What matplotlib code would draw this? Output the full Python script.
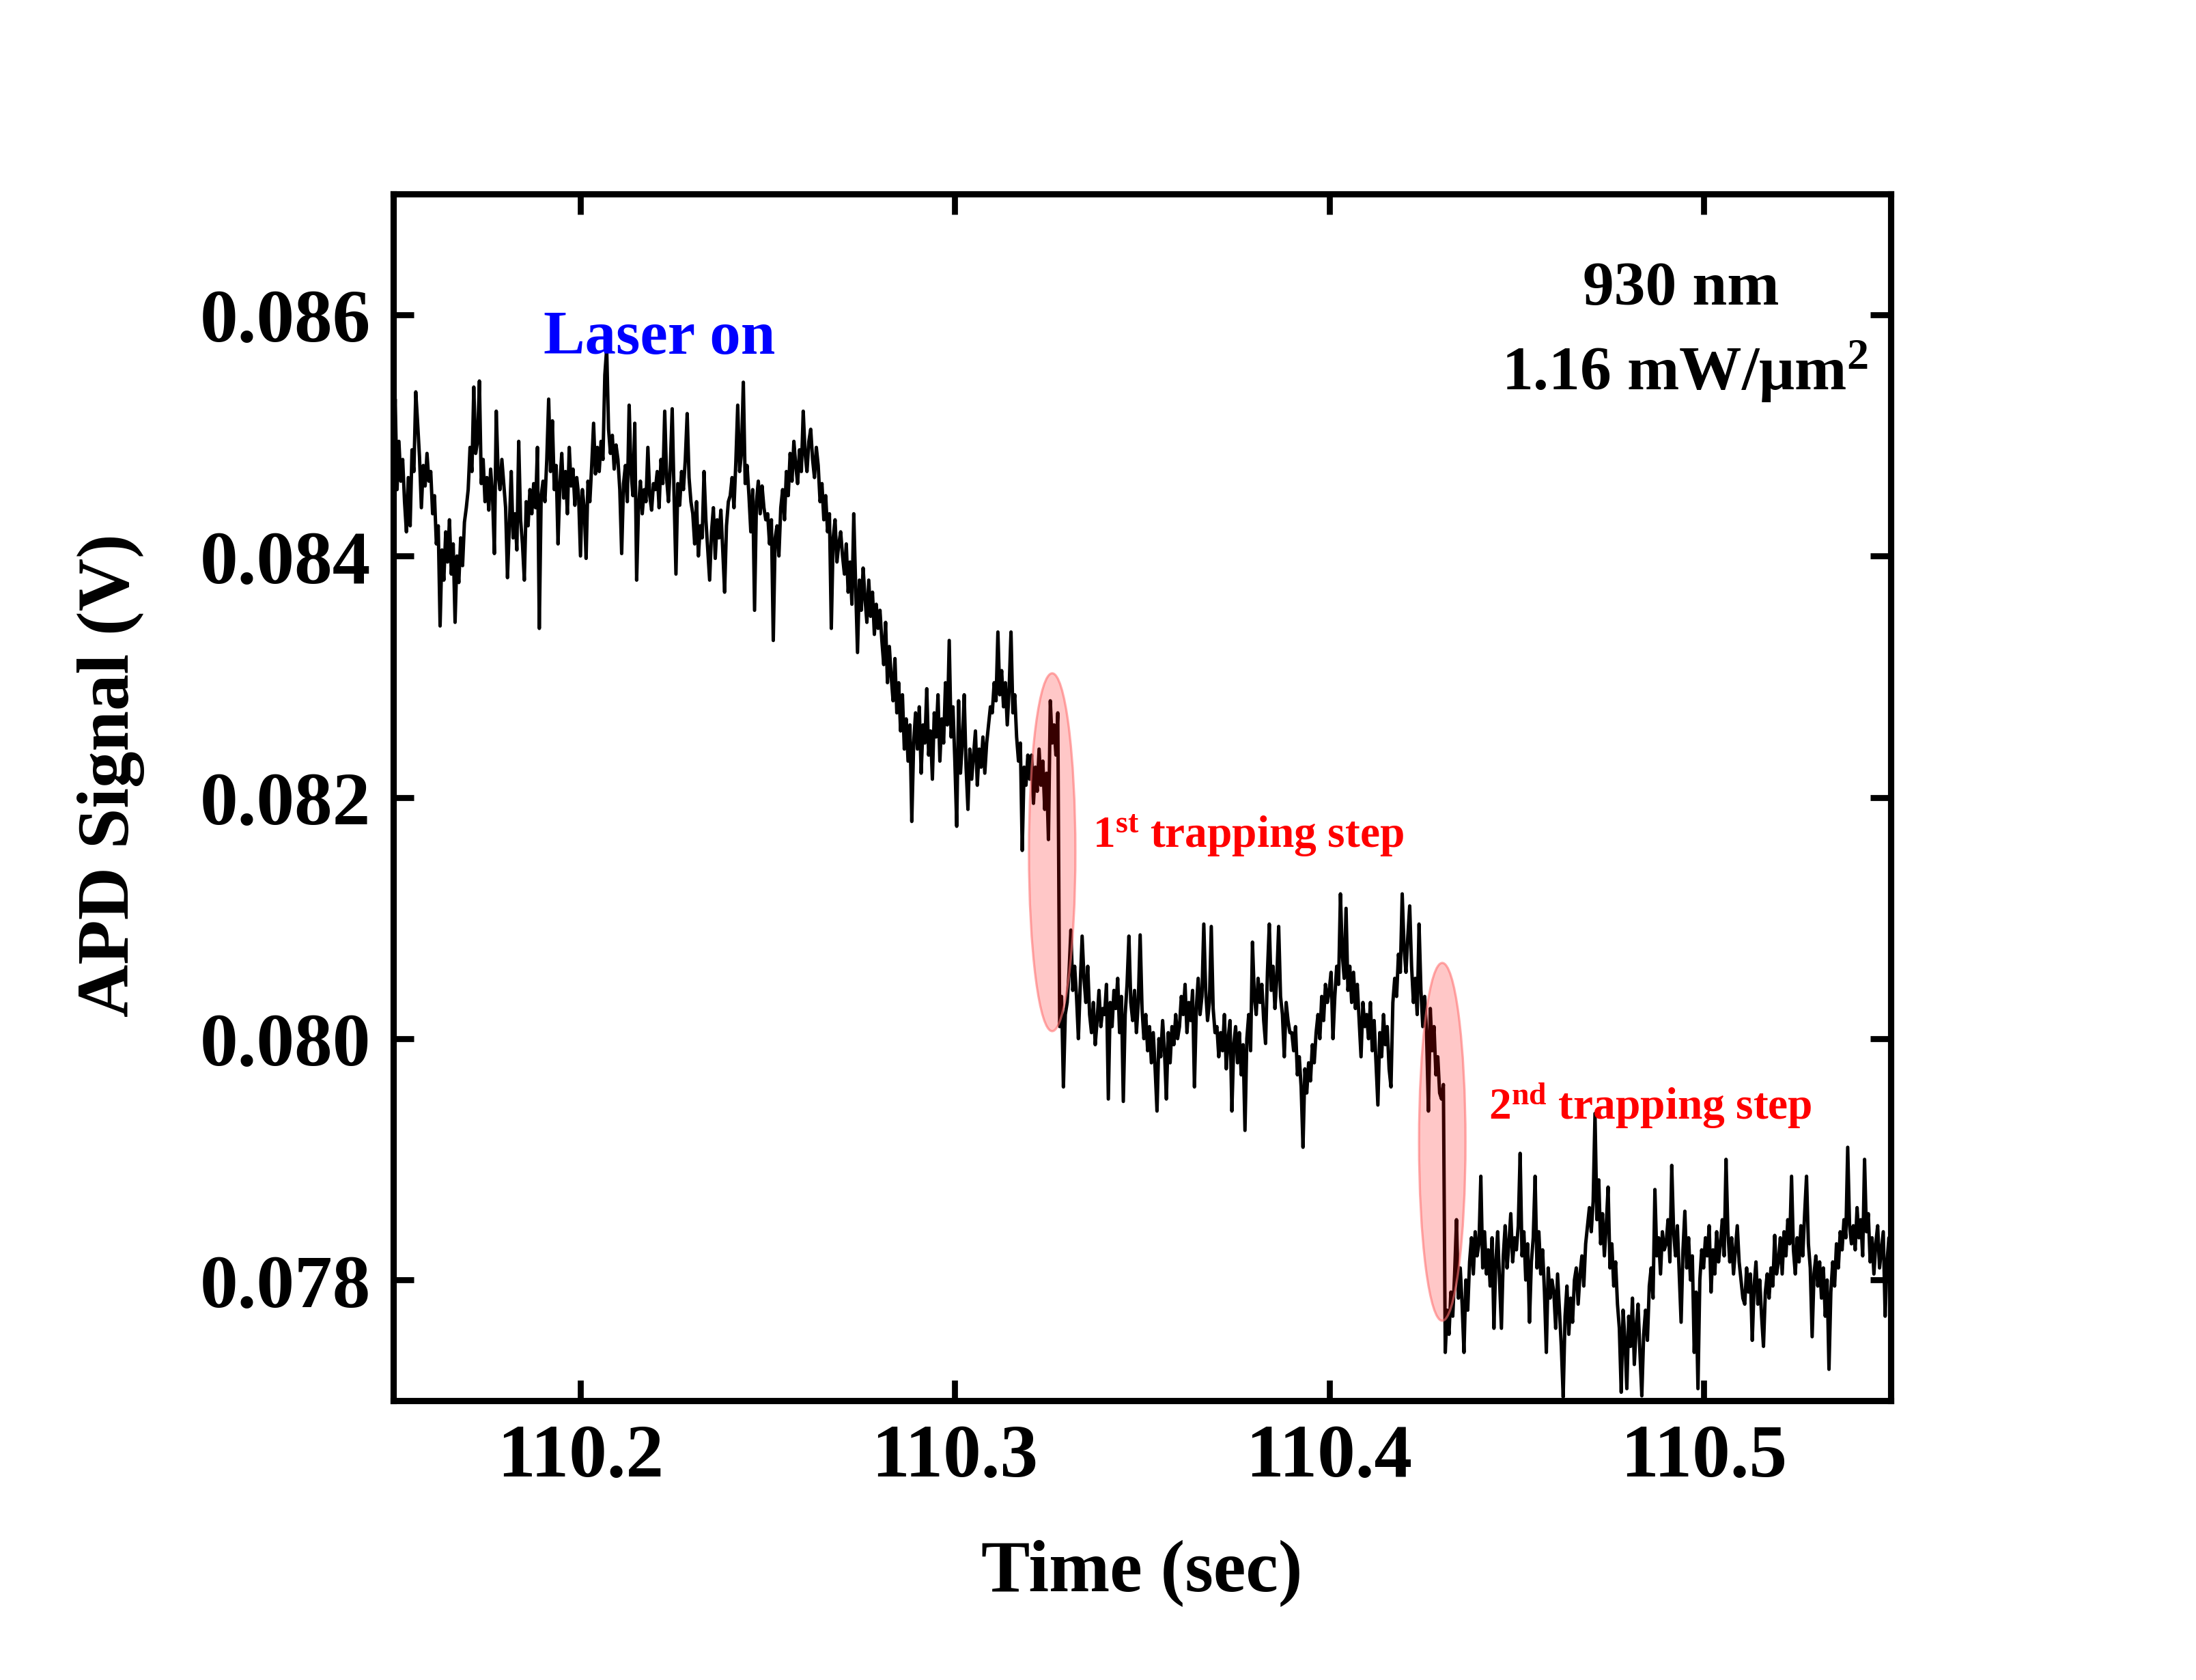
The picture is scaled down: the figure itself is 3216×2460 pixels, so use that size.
import numpy as np
import matplotlib
matplotlib.use("Agg")
import matplotlib.pyplot as plt
from matplotlib.patches import Ellipse

plt.rcParams['font.family'] = ['Liberation Serif', 'DejaVu Serif']
plt.rcParams['font.weight'] = 'bold'
plt.rcParams['mathtext.fontset'] = 'custom'
plt.rcParams['mathtext.rm'] = 'Liberation Serif:bold'
plt.rcParams['mathtext.bf'] = 'Liberation Serif:bold'
plt.rcParams['mathtext.it'] = 'Liberation Serif:bold'

# ---------------- data ----------------
t_start = 110.15          # s, first sample
t_step = 0.0005           # s, sampling interval
# APD signal in mV, one row per 0.01 s (20 samples)
signal_mV_rows = [
    [84.72, 85.30, 84.55, 84.95, 84.62, 84.80, 84.45, 84.20, 84.65, 84.25, 84.88, 84.70, 85.36, 85.10, 84.82, 84.40, 84.75, 84.58, 84.85, 84.62],
    [84.70, 84.35, 84.50, 84.10, 84.25, 83.42, 84.05, 83.80, 84.20, 83.95, 84.30, 83.85, 84.10, 83.45, 84.00, 83.78, 84.15, 83.92, 84.28, 84.40],
    [84.55, 84.90, 84.70, 85.40, 84.85, 84.95, 85.45, 84.60, 84.80, 84.45, 84.65, 84.38, 84.72, 84.50, 84.02, 85.20, 84.68, 84.55, 84.80, 84.60],
    [84.40, 83.82, 84.25, 84.70, 84.15, 84.35, 84.05, 84.95, 84.30, 84.10, 83.80, 84.45, 84.25, 84.55, 84.35, 84.60, 84.40, 84.90, 83.40, 84.50],
    [84.62, 84.45, 84.80, 85.30, 84.70, 85.12, 84.55, 84.75, 84.10, 84.60, 84.85, 84.48, 84.70, 84.35, 84.90, 84.58, 84.72, 84.42, 84.65, 84.50],
    [84.00, 84.55, 84.40, 83.98, 84.62, 84.45, 84.75, 85.10, 84.68, 84.90, 84.70, 84.95, 84.80, 85.50, 85.72, 85.05, 84.85, 85.00, 84.72, 84.92],
    [84.80, 84.55, 84.02, 84.60, 84.75, 84.45, 85.25, 84.70, 84.50, 85.10, 83.80, 84.40, 84.62, 84.35, 84.55, 84.45, 84.90, 84.50, 84.38, 84.60],
    [84.55, 84.70, 84.40, 84.80, 84.60, 85.20, 84.65, 84.45, 84.75, 85.22, 84.50, 83.85, 84.60, 84.42, 84.70, 84.55, 84.80, 85.18, 84.65, 84.45],
    [84.35, 84.10, 84.45, 84.00, 84.25, 84.15, 84.70, 84.30, 84.05, 83.80, 84.20, 84.40, 83.98, 84.30, 84.15, 84.38, 84.05, 83.70, 84.25, 84.45],
    [84.50, 84.65, 84.40, 84.78, 85.25, 84.70, 84.85, 85.44, 84.60, 84.75, 84.50, 84.20, 84.55, 83.55, 84.45, 84.62, 84.35, 84.58, 84.40, 84.30],
    [84.35, 84.10, 84.30, 83.30, 84.15, 84.25, 84.00, 84.40, 84.55, 84.30, 84.70, 84.50, 84.85, 84.62, 84.95, 84.75, 84.60, 84.88, 84.70, 85.20],
    [84.85, 84.70, 84.95, 85.05, 84.80, 84.65, 84.90, 84.75, 84.45, 84.60, 84.30, 84.50, 84.20, 84.35, 83.40, 84.15, 84.30, 83.95, 84.10, 84.20],
    [84.00, 83.85, 84.10, 83.70, 83.95, 83.60, 84.35, 83.75, 83.20, 83.80, 83.55, 83.90, 83.65, 83.45, 83.80, 83.50, 83.70, 83.35, 83.60, 83.40],
    [83.55, 83.30, 83.10, 83.45, 82.95, 83.25, 83.00, 82.80, 83.15, 82.70, 82.95, 82.55, 82.85, 82.40, 82.65, 82.30, 82.60, 81.80, 82.45, 82.70],
    [82.40, 82.75, 82.20, 82.60, 82.45, 82.90, 82.35, 82.55, 82.15, 82.70, 82.50, 82.85, 82.30, 82.65, 82.45, 82.95, 82.60, 83.30, 82.50, 82.75],
    [82.30, 81.76, 82.80, 82.20, 82.45, 82.85, 82.25, 81.90, 82.40, 82.15, 82.35, 82.55, 82.10, 82.40, 82.25, 82.50, 82.20, 82.45, 82.60, 82.75],
    [82.70, 82.95, 82.80, 83.37, 82.85, 83.05, 82.75, 82.95, 82.60, 82.90, 83.37, 82.70, 82.85, 82.50, 82.30, 82.45, 81.56, 82.25, 82.10, 82.35],
    [82.15, 82.35, 81.95, 82.25, 82.05, 82.40, 82.10, 82.30, 81.90, 82.20, 81.65, 82.80, 82.45, 82.60, 82.35, 82.70, 80.10, 80.35, 79.60, 80.20],
    [80.30, 80.55, 80.90, 80.40, 80.60, 80.35, 80.00, 80.45, 80.85, 80.50, 80.30, 80.60, 80.20, 80.05, 80.30, 79.95, 80.15, 80.40, 80.10, 80.25],
    [80.20, 80.45, 79.50, 80.30, 80.10, 80.40, 80.25, 80.50, 80.05, 80.35, 79.48, 80.20, 80.45, 80.85, 80.30, 80.15, 80.40, 80.05, 80.30, 80.86],
    [80.25, 80.00, 80.20, 79.90, 80.10, 79.80, 80.05, 79.75, 79.40, 80.00, 79.85, 80.15, 79.90, 79.50, 80.05, 79.80, 80.10, 79.95, 80.20, 80.00],
    [80.10, 80.35, 80.20, 80.45, 80.05, 80.30, 80.15, 80.40, 79.60, 80.25, 80.50, 80.20, 80.35, 80.95, 80.40, 80.15, 80.30, 80.93, 80.25, 80.05],
    [80.10, 79.85, 80.05, 79.90, 80.20, 79.75, 80.00, 80.15, 79.40, 79.95, 80.10, 79.80, 80.05, 79.70, 79.95, 79.24, 80.00, 80.20, 79.90, 80.80],
    [80.35, 80.20, 80.50, 80.30, 80.45, 80.15, 79.96, 80.55, 80.95, 80.40, 80.60, 80.25, 80.50, 80.93, 80.35, 80.20, 79.85, 80.30, 80.15, 80.05],
    [80.05, 79.90, 80.10, 79.70, 79.85, 79.60, 79.10, 79.75, 79.55, 79.80, 79.65, 79.95, 79.80, 80.05, 80.20, 80.00, 80.35, 80.15, 80.45, 80.30],
    [80.40, 80.55, 80.00, 80.35, 80.60, 80.45, 81.20, 80.70, 80.50, 81.08, 80.40, 80.60, 80.30, 80.55, 80.25, 80.45, 80.15, 79.85, 80.30, 80.10],
    [80.20, 80.00, 80.30, 79.90, 80.15, 79.80, 79.45, 80.05, 79.85, 80.20, 79.95, 80.10, 79.75, 79.60, 80.30, 80.50, 80.35, 80.70, 80.55, 81.20],
    [80.75, 80.55, 80.85, 81.10, 80.60, 80.30, 80.50, 80.20, 80.95, 80.40, 80.10, 80.35, 80.05, 79.40, 80.25, 79.90, 80.10, 79.70, 79.85, 79.55],
    [79.50, 79.62, 77.40, 77.75, 77.55, 77.90, 77.70, 78.05, 78.50, 77.85, 78.10, 77.80, 77.40, 78.00, 77.75, 78.15, 78.35, 78.05, 78.40, 78.20],
    [78.30, 78.86, 78.10, 78.40, 78.05, 78.25, 77.95, 78.35, 77.60, 78.15, 78.40, 78.00, 77.60, 78.20, 78.45, 78.10, 78.30, 78.55, 78.15, 78.35],
    [78.25, 78.45, 79.05, 78.20, 78.40, 78.00, 78.30, 77.65, 78.15, 78.35, 78.86, 78.10, 78.40, 78.05, 78.25, 77.90, 77.40, 78.10, 77.85, 78.00],
    [77.90, 77.60, 78.05, 77.75, 77.45, 77.03, 77.70, 77.95, 77.55, 77.85, 77.65, 78.00, 78.10, 77.80, 78.05, 78.20, 77.95, 78.30, 78.45, 78.60],
    [78.40, 78.65, 79.38, 78.50, 78.83, 78.30, 78.55, 78.20, 78.45, 78.77, 78.10, 78.30, 77.95, 78.15, 77.80, 77.60, 77.07, 77.75, 77.50, 77.10],
    [77.70, 77.45, 77.85, 77.30, 77.60, 77.80, 77.40, 77.04, 77.55, 77.75, 77.50, 77.95, 78.10, 77.85, 78.75, 78.20, 78.35, 78.05, 78.40, 78.25],
    [78.30, 78.50, 78.15, 78.95, 78.40, 78.20, 78.45, 78.05, 77.65, 78.25, 78.57, 78.10, 78.35, 78.00, 78.20, 77.40, 77.90, 77.10, 78.00, 78.25],
    [78.10, 78.35, 78.20, 78.45, 77.90, 78.25, 78.05, 78.40, 78.15, 78.30, 78.50, 78.20, 79.00, 78.40, 78.15, 78.35, 78.05, 78.25, 78.45, 78.15],
    [78.00, 77.85, 77.80, 78.10, 77.90, 78.05, 77.50, 77.95, 78.15, 77.80, 78.00, 77.70, 77.45, 77.90, 78.05, 77.85, 78.10, 77.95, 78.37, 78.05],
    [78.15, 78.35, 78.05, 78.40, 78.20, 78.50, 78.30, 78.86, 78.25, 78.05, 78.35, 78.15, 78.45, 78.20, 78.55, 78.86, 78.30, 78.10, 77.53, 78.05],
    [78.20, 77.95, 78.15, 77.85, 78.10, 77.70, 78.00, 77.26, 77.90, 78.15, 77.95, 78.30, 78.10, 78.40, 78.25, 78.50, 78.35, 79.10, 78.45, 78.30],
    [78.45, 78.25, 78.60, 78.35, 78.50, 78.20, 79.00, 78.40, 78.55, 78.15, 78.35, 78.05, 78.30, 78.45, 78.10, 78.25, 78.40, 77.70, 78.15, 78.35],
    [78.30],
]

x_limits = (110.15, 110.55)
y_limits = (0.077, 0.087)
x_ticks = [110.2, 110.3, 110.4, 110.5]
x_tick_labels = ["110.2", "110.3", "110.4", "110.5"]
y_ticks = [0.078, 0.080, 0.082, 0.084, 0.086]
y_tick_labels = ["0.078", "0.080", "0.082", "0.084", "0.086"]

x_label = "Time (sec)"
y_label = "APD Signal (V)"

# trapping-step highlights: (center time, center signal V, width s, height V)
step_marks = [
    (110.3260, 0.081545, 0.0124, 0.002965),
    (110.4302, 0.079145, 0.0124, 0.002965),
]

# ---------------- build series ----------------
signal_mV = [v for row in signal_mV_rows for v in row]
signal_V = np.array(signal_mV) / 1000.0
time_s = t_start + t_step * np.arange(len(signal_V))

# ---------------- figure ----------------
fig = plt.figure(figsize=(10.72, 8.2033), dpi=300)
ax = fig.add_axes([0.1791, 0.16619, 0.6819, 0.7180])

ax.plot(time_s, signal_V, color='black', lw=1.2, zorder=2)

for (cx, cy, w, h) in step_marks:
    e = Ellipse((cx, cy), w, h, facecolor=(1, 0, 0, 0.22),
                edgecolor=(1, 0.45, 0.45, 0.6), lw=0.8, zorder=3)
    ax.add_patch(e)

ax.set_xlim(*x_limits)
ax.set_ylim(*y_limits)
ax.set_xticks(x_ticks)
ax.set_xticklabels(x_tick_labels)
ax.set_yticks(y_ticks)
ax.set_yticklabels(y_tick_labels)

for s in ax.spines.values():
    s.set_linewidth(2.2)
ax.tick_params(axis='both', which='major', direction='in', length=7.2, width=2.1,
               top=True, right=True, labelsize=26.7, pad=8)
for lab in ax.get_xticklabels() + ax.get_yticklabels():
    lab.set_fontweight('bold')

ax.set_xlabel(x_label, fontsize=25.7, fontweight='bold')
ax.set_ylabel(y_label, fontsize=25.7, fontweight='bold')
ax.xaxis.set_label_coords(0.5, -0.115)
ax.yaxis.set_label_coords(-0.166, 0.519)

ax.text(110.221, 0.08568, "Laser on", color='#0000FF', fontsize=21.8,
        fontweight='bold', ha='center', va='baseline')
ax.text(110.494, 0.08609, "930 nm", color='black', fontsize=22,
        fontweight='bold', ha='center', va='baseline')
ax.text(110.495, 0.08538, r"1.16 mW/μm$^{\mathbf{2}}$", color='black', fontsize=22,
        fontweight='bold', ha='center', va='baseline')
ax.text(110.3368, 0.08159, r"1$^{\mathbf{st}}$ trapping step", color='#FF0000',
        fontsize=15.7, fontweight='bold', ha='left', va='baseline')
ax.text(110.4426, 0.07934, r"2$^{\mathbf{nd}}$ trapping step", color='#FF0000',
        fontsize=15.7, fontweight='bold', ha='left', va='baseline')

fig.savefig("out.png", dpi=300)
